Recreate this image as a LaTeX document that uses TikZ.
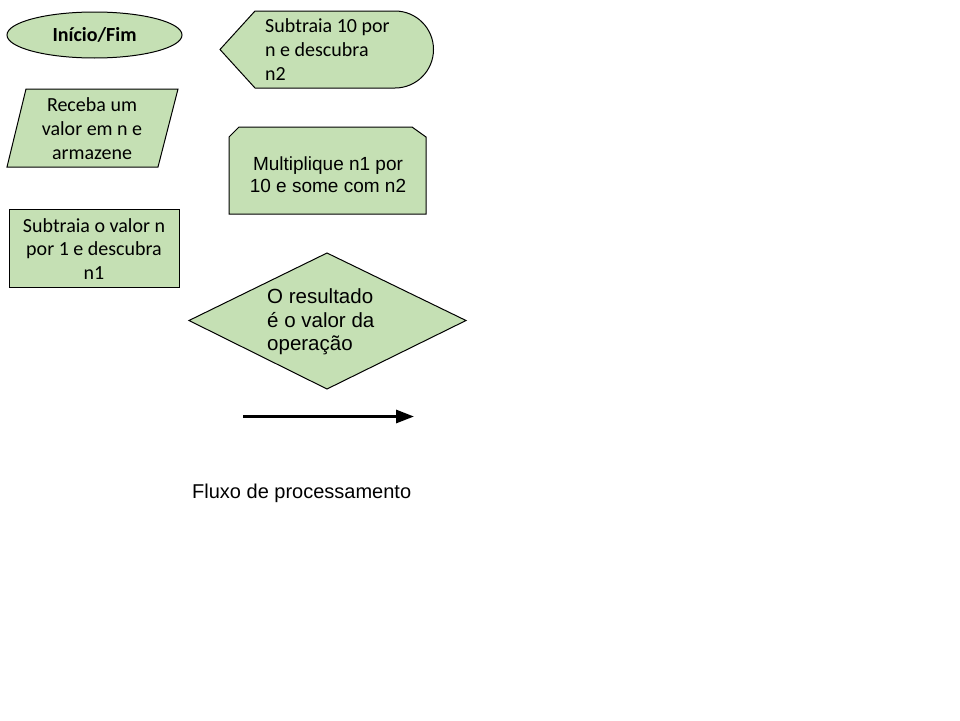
\documentclass[tikz,border=0pt]{standalone}
\usepackage{fontspec}
\setmainfont{Carlito}
\newfontfamily\arial{Liberation Sans}
\usetikzlibrary{arrows.meta}
\definecolor{lgreen}{HTML}{C5E0B4}
\tikzset{
  shapebox/.style={draw=black, fill=lgreen, line width=1pt, line join=miter},
  cal/.style={font=\fontsize{20}{24}\selectfont, inner sep=0pt, align=center},
  ari/.style={font=\arial\fontsize{19}{22}\selectfont, inner sep=0pt, align=center},
}
\begin{document}
\begin{tikzpicture}[x=1pt,y=-1pt]
\useasboundingbox[fill=white] (0,0) rectangle (960,720);
% Inicio/Fim ellipse
\draw[shapebox] (94.5,35) ellipse [x radius=87.5, y radius=23];
\node[cal, font=\bfseries\fontsize{20}{24}\selectfont] (ini) at (94.5,35) {Início/Fim};
% parallelogram
\draw[shapebox] (26,89) -- (178,89) -- (158,167) -- (7,167) -- cycle;
\node[cal] (rec) at (92,129) {Receba um\\valor em n e\\armazene};
% rectangle
\draw[shapebox] (9,209) rectangle (179,287);
\node[cal, font=\fontsize{20}{23.5}\selectfont] (sub1) at (94,249) {Subtraia o valor n\\por 1 e descubra\\n1};
% display shape
\draw[shapebox] (220,49.5) -- (255,11) -- (395,11) arc[start angle=-90, end angle=90, radius=38.5] -- (255,88) -- cycle;
\node[cal, align=left, anchor=west] (sub2) at (265,50) {Subtraia 10 por\\n e descubra\\n2};
% chamfered box
\draw[shapebox] (229,137) -- (239,127) -- (412,127) -- (426,137) -- (426,214) -- (229,214) -- cycle;
\node[ari] (mult) at (328,175) {Multiplique n1 por\\10 e some com n2};
% diamond
\draw[shapebox] (327,253) -- (466,320.5) -- (327,389) -- (189,320.5) -- cycle;
\node[ari, align=left, anchor=west, font=\arial\fontsize{20.5}{23.5}\selectfont] (res) at (267,322) {O resultado\\é o valor da\\operação};
% arrow
\coordinate (a1) at (243,416.5);
\coordinate (a2) at (414,416.5);
\draw[line width=3pt, -{Triangle[length=18pt,width=13pt]}] (a1) -- (a2);
\node[ari, anchor=base west, font=\arial\fontsize{20}{24}\selectfont] (flux) at (192,498) {Fluxo de processamento};
\end{tikzpicture}
\end{document}
